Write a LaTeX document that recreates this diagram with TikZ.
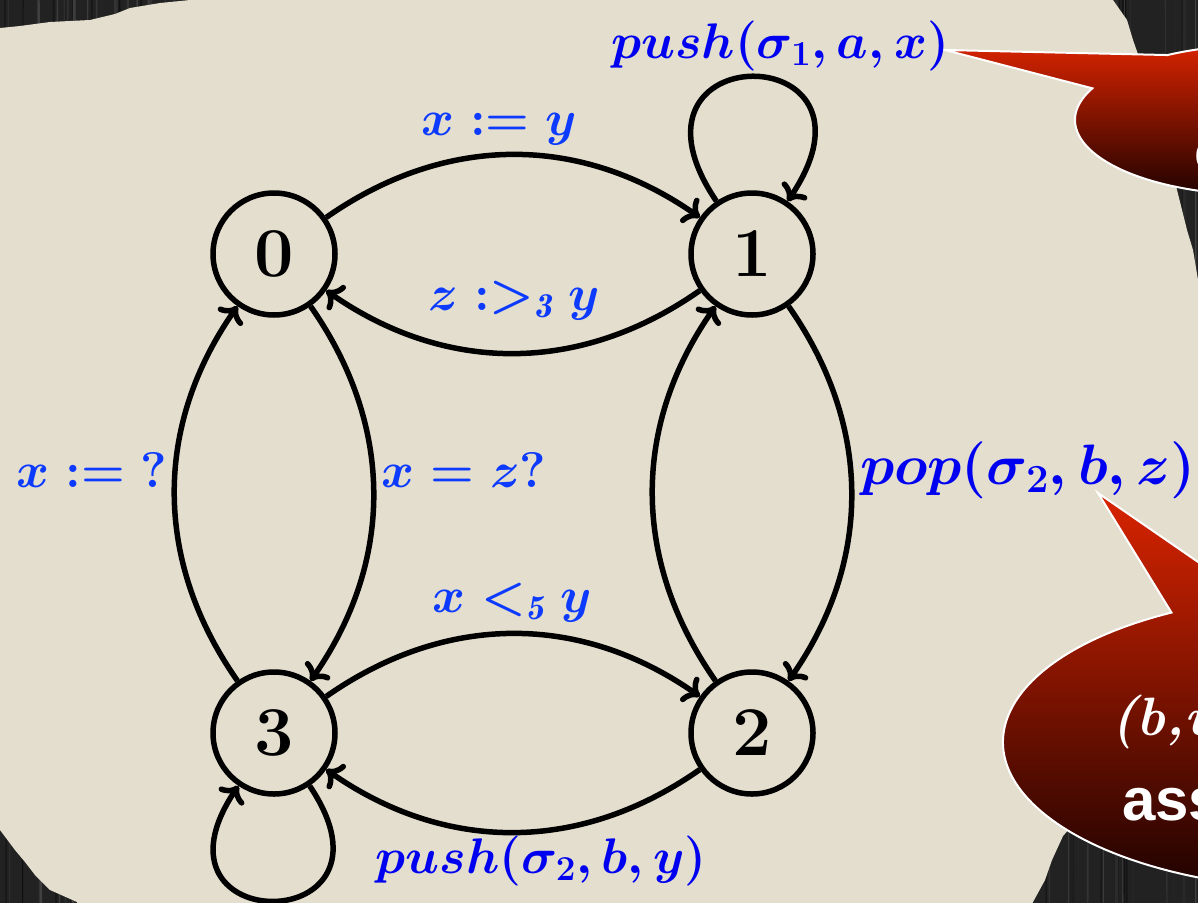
\RequirePackage{fix-cm}
\documentclass[tikz,border=0pt]{standalone}
\usepackage{fontspec}
\newfontfamily\callsans{Liberation Sans}
\usetikzlibrary{calc,arrows.meta}
\definecolor{paper}{RGB}{228,222,206}
\definecolor{wood}{RGB}{34,34,34}
\definecolor{labA}{RGB}{12,58,255}
\definecolor{labB}{RGB}{0,0,240}
\definecolor{redT}{RGB}{218,36,0}
\definecolor{redB}{RGB}{20,0,0}
\tikzset{
  st/.style={circle,draw=black,line width=5.5pt,minimum size=122pt,inner sep=0pt,
    font=\fontsize{70}{80}\selectfont\bfseries},
  trans/.style={draw=black,line width=5.5pt,-{To[length=15pt,width=30pt]}},
  labA/.style={text=labA,anchor=base,inner sep=0pt,font=\fontsize{50}{60}\selectfont\boldmath},
  labB/.style={text=labB,anchor=base,inner sep=0pt,font=\fontsize{50}{60}\selectfont\boldmath},
  bubble/.style={draw=white,line width=2pt,top color=redT,bottom color=redB},
  calltext/.style={text=white,anchor=base west,inner sep=0pt}
}
\begin{document}
\begin{tikzpicture}[x=1pt,y=1pt]
\useasboundingbox (0,0) rectangle (1198,-902);
\clip (0,0) rectangle (1198,-902);
% wood background
\fill[wood] (-5,5) rectangle (1205,-910);
\pgfmathsetseed{7}
\foreach \i in {1,...,240}{
  \pgfmathsetmacro\xx{1198*rnd}
  \pgfmathtruncatemacro\gg{5+22*rnd}
  \pgfmathsetmacro\ww{0.6+2.5*rnd}
  \pgfmathsetmacro\dd{6*rnd-3}
  \draw[line width=\ww pt,color=white!\gg!black] (\xx,5) -- ++(\dd,-915);
}
% paper
\fill[paper] (190,8) -- (1113,8) -- (1113,0) -- (1127,-20) -- (1133,-40) -- (1140,-60) -- (1155,-100)
  -- (1168,-150) -- (1177,-190) -- (1187,-230) -- (1193,-250) -- (1198,-280) -- (1206,-285)
  -- (1206,-760) -- (1100,-800) -- (1070,-828) -- (1063,-836) -- (1052,-860)
  -- (1045,-880) -- (1033,-902) -- (1030,-910) -- (77,-910) -- (77,-902) -- (50,-890) -- (35,-875) -- (25,-862)
  -- (15,-850) -- (0,-830) -- (-8,-830) -- (-8,-28) -- (0,-28) -- (20,-26) -- (50,-22) -- (90,-20)
  -- (115,-14) -- (130,-8) -- (160,-3) -- (190,0) -- cycle;
% callouts
\shadedraw[bubble] (945,-50) -- ([shift={(1260,-120)}]155:185 and 75)
  arc[start angle=155,end angle=480,x radius=185,y radius=75] -- cycle;
\node[calltext,font=\callsans\bfseries\fontsize{58}{60}\selectfont] (ctop) at (1194,-171) {c};
\shadedraw[bubble] (1098,-493) -- ([shift={(1330,-742)}]119:327 and 148)
  arc[start angle=119,end angle=464,x radius=327,y radius=148] -- cycle;
\node[calltext,font=\bfseries\itshape\fontsize{54}{60}\selectfont] (cb1) at (1111,-735) {(b,u};
\node[calltext,font=\callsans\bfseries\fontsize{60}{62}\selectfont] (cb2) at (1122,-820) {ass};
% states
\node[st] (n0) at (274,-254) {0};
\node[st] (n1) at (752,-254) {1};
\node[st] (n2) at (752,-733) {2};
\node[st] (n3) at (274,-733) {3};
% transitions
\draw[trans] (n0) to[bend left=35] (n1);
\draw[trans] (n1) to[bend left=35] (n0);
\draw[trans] (n0) to[bend left=35] (n3);
\draw[trans] (n3) to[bend left=35] (n0);
\draw[trans] (n1) to[bend left=35] (n2);
\draw[trans] (n2) to[bend left=35] (n1);
\draw[trans] (n3) to[bend left=35] (n2);
\draw[trans] (n2) to[bend left=35] (n3);
\draw[trans] (n1.124) .. controls +(124:200) and +(56:200) .. (n1.56);
\draw[trans] (n3.-56) .. controls +(-56:185) and +(-124:185) .. (n3.-124);
% labels
\node[labA] (l01) at (499,-135) {$x := y$};
\node[labA] (l10) at (514,-310) {$z :>_{\mathit{3}} y$};
\node[labB] (l11) at (780,-58) {$push(\sigma_1,a,x)$};
\node[labA] (l30) at (92,-487) {$x := {?}$};
\node[labA] (l03) at (464,-487) {$x = z?$};
\node[labB,font=\fontsize{57}{66}\selectfont\boldmath] (l12) at (1028,-484) {$pop(\sigma_2,b,z)$};
\node[labA] (l32) at (512,-612) {$x <_{\mathit{5}} y$};
\node[labB] (l33) at (541,-873) {$push(\sigma_2,b,y)$};
\end{tikzpicture}
\end{document}
